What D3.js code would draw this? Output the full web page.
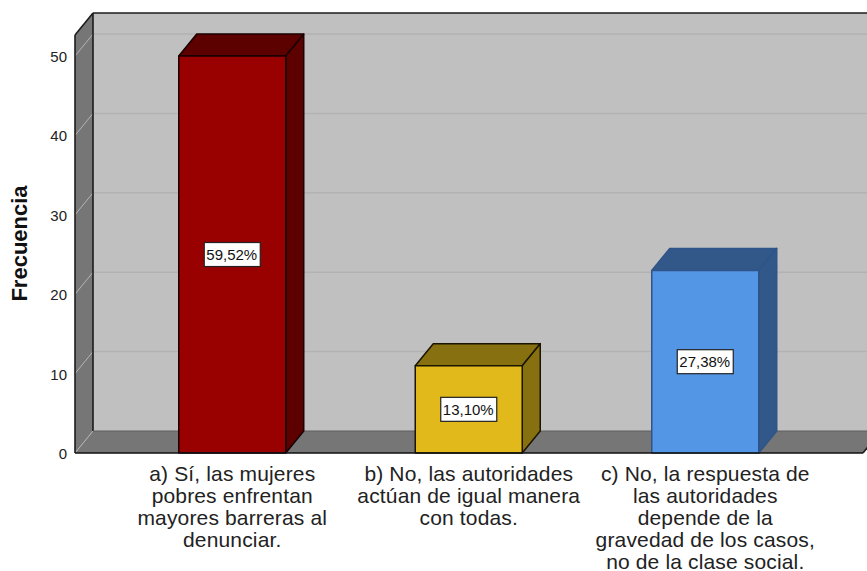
<!DOCTYPE html>
<html><head><meta charset="utf-8">
<script src="https://cdnjs.cloudflare.com/ajax/libs/d3/7.8.5/d3.min.js"></script>
<style>html,body{margin:0;padding:0;background:#fff}svg{display:block}</style></head>
<body><svg id="c" width="867" height="571"></svg>
<script>
const categories = ["a","b","c"];
const values = [50, 11, 23];
const percentLabels = ["59,52%","13,10%","27,38%"];
const faceColors = ["#990000","#E1B91B","#5496E6"];
const topColors = ["#5C0000","#877010","#32588A"];
const edgeColors = ["#1a0000","#1a1500","#2f5488"];
const categoryLines = [
 ["a) Sí, las mujeres","pobres enfrentan","mayores barreras al","denunciar."],
 ["b) No, las autoridades","actúan de igual manera","con todas."],
 ["c) No, la respuesta de","las autoridades","depende de la","gravedad de los casos,","no de la clase social."]];
const yTicks = [0,10,20,30,40,50];
const yTitle = "Frecuencia";

const font = "Liberation Sans, Arial, sans-serif";
const dx=18, dy=22, left=75, right=868, frontRight=863;
const svg=d3.select("#c");
const y=d3.scaleLinear().domain([0,52.65]).range([453,35]);
const x=d3.scaleBand().domain(categories).range([114,823.5]).paddingInner(0.5476).paddingOuter(0.2738).align(.5);
const line=d3.line();
const poly=(pts,fill,stroke,sw)=>svg.append("path").attr("d",line(pts)+"Z").attr("fill",fill).attr("stroke",stroke||"none").attr("stroke-width",sw||0).attr("stroke-linejoin","round");
const y0=y(0), yT=y.range()[1];

poly([[left+dx,yT-dy],[right,yT-dy],[right,y0-dy],[left+dx,y0-dy]],"#C0C0C0");
poly([[left,y0],[left+dx,y0-dy],[frontRight+dx,y0-dy],[frontRight,y0]],"#767676");
poly([[left,yT],[left+dx,yT-dy],[left+dx,y0-dy],[left,y0]],"#767676");
yTicks.forEach(t=>{
  if(t>0) svg.append("line").attr("x1",left+dx).attr("x2",right).attr("y1",y(t)-dy).attr("y2",y(t)-dy).attr("stroke","#B2B2B2").attr("stroke-width",1.5);
  svg.append("line").attr("x1",left).attr("x2",left+dx).attr("y1",y(t)).attr("y2",y(t)-dy).attr("stroke","#B4B4B4").attr("stroke-width",1);
});
const frame=(a,b)=>svg.append("line").attr("x1",a[0]).attr("y1",a[1]).attr("x2",b[0]).attr("y2",b[1]).attr("stroke","#1c1c1c").attr("stroke-width",1.6);
frame([left+dx,yT-dy],[right,yT-dy]);
frame([left+dx,yT-dy],[left+dx,y0-dy]);
frame([left,yT],[left+dx,yT-dy]);
frame([left,yT],[left,y0]);
frame([frontRight,y0],[frontRight+dx,y0-dy]);
svg.append("line").attr("x1",left+dx).attr("x2",right).attr("y1",y0-dy).attr("y2",y0-dy).attr("stroke","#5e5e5e").attr("stroke-width",1.2);

categories.forEach((c,i)=>{
  const x0=x(c), x1=x0+x.bandwidth(), t=y(values[i]), e=edgeColors[i];
  poly([[x0,t],[x0+dx,t-dy],[x1+dx,t-dy],[x1,t]],topColors[i],e,1.5);
  poly([[x1,t],[x1+dx,t-dy],[x1+dx,y0-dy],[x1,y0]],topColors[i],e,1.5);
  poly([[x0,t],[x1,t],[x1,y0],[x0,y0]],faceColors[i],e,1.5);
  const cx=(x0+x1)/2, cy=(t+y0)/2;
  svg.append("rect").attr("x",cx-28).attr("y",cy-12).attr("width",56).attr("height",24).attr("fill","#fff").attr("stroke","#222").attr("stroke-width",1.2);
  svg.append("text").attr("x",cx-0.5).attr("y",cy+5.5).attr("text-anchor","middle").attr("font-family",font).attr("font-size",15).attr("fill","#111").text(percentLabels[i]);
  const tx=svg.append("text").attr("text-anchor","middle").attr("font-family",font).attr("font-size",21).attr("letter-spacing",0.15).attr("fill","#222");
  categoryLines[i].forEach((s,j)=>tx.append("tspan").attr("x",cx).attr("y",481+j*22).text(s));
});
svg.append("line").attr("x1",left).attr("x2",frontRight).attr("y1",y0).attr("y2",y0).attr("stroke","#111").attr("stroke-width",1.6);
yTicks.forEach(t=>{
  svg.append("text").attr("x",67).attr("y",y(t)+6).attr("text-anchor","end").attr("font-family",font).attr("font-size",15).attr("fill","#222").text(t);
});
svg.append("text").attr("transform","translate(27,243.5) rotate(-90)").attr("text-anchor","middle").attr("font-family",font).attr("font-size",22).attr("font-weight","bold").attr("fill","#111").text(yTitle);
</script></body></html>
